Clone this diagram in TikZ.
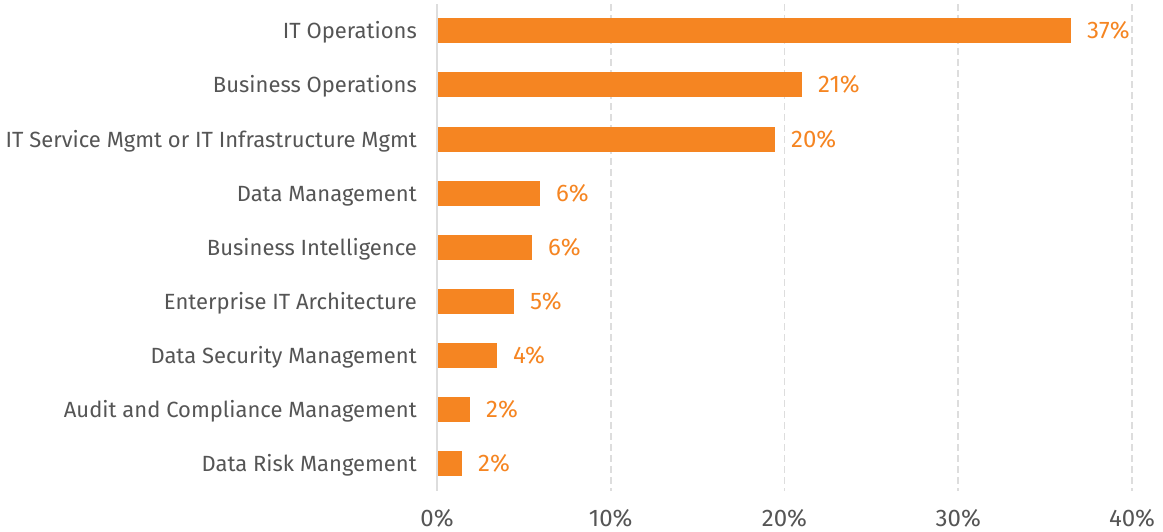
\documentclass[tikz,border=0pt]{standalone}
\usepackage{fontspec}
\setmainfont{Fira Sans}
\definecolor{barorange}{HTML}{F58522}
\definecolor{labelgray}{HTML}{555555}
\definecolor{gridgray}{HTML}{DDDDDD}
\tikzset{
  catlabel/.style={anchor=base east, text=labelgray, font=\fontsize{22}{26}\selectfont, inner sep=0pt},
  vallabel/.style={anchor=base west, text=barorange, font=\fontsize{24}{28}\selectfont, inner sep=0pt},
  ticklabel/.style={anchor=base, text=labelgray, font=\fontsize{24}{28}\selectfont, inner sep=0pt},
  bar/.style={fill=barorange, draw=none},
  gridline/.style={draw=gridgray, line width=1.8pt, dash pattern=on 7pt off 4pt},
  axisline/.style={draw=gridgray, line width=1.8pt}
}
\begin{document}
\begin{tikzpicture}[x=1pt,y=-1pt]
\useasboundingbox (0,0) rectangle (1163,531);
% gridlines
\foreach \gx/\nm in {610.75/g1,784.5/g2,958.25/g3,1132/g4}{
  \coordinate (\nm top) at (\gx,4);
  \coordinate (\nm bot) at (\gx,491);
  \draw[gridline] (\nm top) -- (\nm bot);
}
\coordinate (axtop) at (437,4);
\coordinate (axbot) at (437,491);
\draw[axisline] (axtop) -- (axbot);
% bars
\foreach \i/\endx/\lab/\val in {
  0/1071/IT Operations/37\%,
  1/802/Business Operations/21\%,
  2/775/IT Service Mgmt or IT Infrastructure Mgmt/20\%,
  3/540/Data Management/6\%,
  4/532/Business Intelligence/6\%,
  5/514/Enterprise IT Architecture/5\%,
  6/497/Data Security Management/4\%,
  7/470/Audit and Compliance Management/2\%,
  8/462/Data Risk Mangement/2\%}{
  \pgfmathsetmacro{\cy}{30.8+54.1*\i}
  \path[bar] (438,\cy-12.5) rectangle (\endx,\cy+12.5) coordinate (barend\i);
  \node[catlabel] (cat\i) at (417,\cy+8) {\lab};
  \node[vallabel] (val\i) at (\endx+16,\cy+8) {\val};
}
% tick labels
\node[ticklabel] (t0) at (437,526) {0\%};
\node[ticklabel] (t1) at (610.75,526) {10\%};
\node[ticklabel] (t2) at (784.5,526) {20\%};
\node[ticklabel] (t3) at (958.25,526) {30\%};
\node[ticklabel] (t4) at (1132,526) {40\%};
\end{tikzpicture}
\end{document}
